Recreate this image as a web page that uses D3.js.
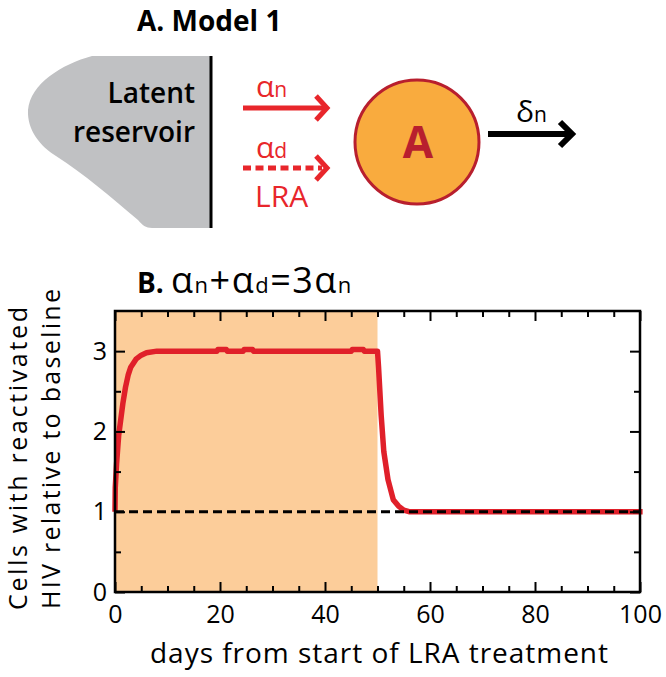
<!DOCTYPE html>
<html>
<head>
<meta charset="utf-8">
<script src="https://cdn.jsdelivr.net/npm/d3@7"></script>
<style>
  html, body { margin: 0; padding: 0; background: #fff; }
  svg { display: block; }
  text { font-family: "Open Sans", "DejaVu Sans", sans-serif; }
</style>
</head>
<body>
<svg id="chart" width="666" height="677"></svg>
<script>
// ---- Data ----
const days = [0, 0.05, 0.3, 0.7, 1, 1.5, 2, 2.5, 3, 4, 5, 6, 8, 12, 19.4, 19.6, 21.2, 21.4, 24.4, 24.6, 26.2, 26.4, 40, 45, 45.2, 47.3, 47.5, 50, 50.2, 50.7, 51.2, 52, 53, 54, 55, 56, 58, 70, 85, 100.5];
const relCells = [1, 1.3, 1.6, 1.95, 2.1, 2.35, 2.55, 2.7, 2.8, 2.9, 2.95, 2.98, 3.0, 3.0, 3.0, 3.02, 3.02, 3.0, 3.0, 3.02, 3.02, 3.0, 3.0, 3.0, 3.02, 3.02, 3.0, 3.0, 2.8, 2.2, 1.75, 1.4, 1.15, 1.07, 1.02, 1.0, 1.0, 1.0, 1.0, 1.0];
const baseline = 1;
const lraStart = 0, lraEnd = 50;
const xMajorTicks = [0, 20, 40, 60, 80, 100];
const yMajorTicks = [0, 1, 2, 3];
const xDomain = [0, 100];
const yDomain = [0, 3.5];

const svg = d3.select("#chart");

// ---- Panel A: model diagram ----
const A = svg.append("g");
A.append("text").attr("x", 137).attr("y", 31).attr("font-size", 28).attr("font-weight", 700)
  .text("A. Model 1");

A.append("path")
  .attr("d", "M211,56 L92,56 C62,64 30,84 28,110 C27,130 40,146 56,156 C84,174 112,198 138,220 C142,225 146,228 152,228 L211,228 Z")
  .attr("fill", "#c0c1c3");
A.append("line").attr("x1", 211).attr("x2", 211).attr("y1", 56).attr("y2", 228)
  .attr("stroke", "#000").attr("stroke-width", 3);
A.append("text").attr("x", 195).attr("y", 103).attr("text-anchor", "end")
  .attr("font-size", 28).attr("font-weight", 600).text("Latent");
A.append("text").attr("x", 195).attr("y", 142).attr("text-anchor", "end")
  .attr("font-size", 28).attr("font-weight", 600).text("reservoir");

const red = "#e8262b";
// solid arrow alpha_n
A.append("line").attr("x1", 243).attr("x2", 324).attr("y1", 108).attr("y2", 108)
  .attr("stroke", red).attr("stroke-width", 5);
A.append("path").attr("d", "M316,96 L327,108 L316,120").attr("fill", "none")
  .attr("stroke", red).attr("stroke-width", 5);
const an = A.append("text").attr("x", 256).attr("y", 97).attr("fill", red).attr("font-size", 30);
an.append("tspan").text("α");
an.append("tspan").attr("font-size", 21).text("n");
// dashed arrow alpha_d
A.append("line").attr("x1", 243).attr("x2", 322).attr("y1", 168).attr("y2", 168)
  .attr("stroke", red).attr("stroke-width", 5).attr("stroke-dasharray", "8,4.5");
A.append("path").attr("d", "M316,156 L327,168 L316,180").attr("fill", "none")
  .attr("stroke", red).attr("stroke-width", 5);
const ad = A.append("text").attr("x", 256).attr("y", 158).attr("fill", red).attr("font-size", 30);
ad.append("tspan").text("α");
ad.append("tspan").attr("font-size", 21).text("d");
A.append("text").attr("x", 255).attr("y", 207).attr("fill", red).attr("font-size", 30).text("LRA");

// compartment A
A.append("circle").attr("cx", 417).attr("cy", 142).attr("r", 62)
  .attr("fill", "#f9ab3e").attr("stroke", "#b81f2e").attr("stroke-width", 3);
A.append("text").attr("x", 418).attr("y", 158).attr("text-anchor", "middle")
  .attr("font-size", 44).attr("font-weight", 700).attr("fill", "#b81f2e").text("A");

// death arrow delta_n
A.append("line").attr("x1", 488).attr("x2", 570).attr("y1", 134).attr("y2", 134)
  .attr("stroke", "#000").attr("stroke-width", 6);
A.append("path").attr("d", "M560,122 L572,134 L560,146").attr("fill", "none")
  .attr("stroke", "#000").attr("stroke-width", 6);
const dn = A.append("text").attr("x", 516).attr("y", 122).attr("fill", "#000").attr("font-size", 30);
dn.append("tspan").text("δ");
dn.append("tspan").attr("font-size", 21).text("n");

// ---- Panel B: chart ----
const pLeft = 115, pRight = 640, pTop = 311, pBottom = 592;
const x = d3.scaleLinear().domain(xDomain).range([pLeft, pRight]);
const y = d3.scaleLinear().domain(yDomain).range([pBottom, pTop]);

const title = svg.append("text").attr("x", 137).attr("y", 293).attr("font-size", 36);
title.append("tspan").attr("font-weight", 700).attr("font-size", 28).text("B. ");
title.append("tspan").attr("letter-spacing", 1.5).text("α");
title.append("tspan").attr("font-size", 22).attr("letter-spacing", 1.5).text("n");
title.append("tspan").attr("letter-spacing", 1.5).text("+α");
title.append("tspan").attr("font-size", 22).attr("letter-spacing", 1.5).text("d");
title.append("tspan").attr("letter-spacing", 1.5).text("=3α");
title.append("tspan").attr("font-size", 22).text("n");

// LRA treatment shading
svg.append("rect")
  .attr("x", x(lraStart)).attr("y", pTop)
  .attr("width", x(lraEnd) - x(lraStart)).attr("height", pBottom - pTop)
  .attr("fill", "#fccd9a");

// curve
const pts = days.map((d, i) => [d, relCells[i]]);
svg.append("path").datum(pts)
  .attr("d", d3.line().x(d => x(d[0])).y(d => y(d[1])))
  .attr("fill", "none").attr("stroke", "#e0202a").attr("stroke-width", 5.5)
  .attr("stroke-linejoin", "round");

// baseline dashed
svg.append("line")
  .attr("x1", x(xDomain[0])).attr("x2", x(xDomain[1]))
  .attr("y1", y(baseline)).attr("y2", y(baseline))
  .attr("stroke", "#000").attr("stroke-width", 3).attr("stroke-dasharray", "9,5");

// axes
const xMinor = d3.range(0, 101, 5).filter(v => v % 20 !== 0);
const yMinor = [0.5, 1.5, 2.5];

function styleAxis(g) {
  g.select(".domain").remove();
  g.selectAll(".tick line").attr("stroke", "#000").attr("stroke-width", 2);
  g.selectAll("text").attr("font-size", 25).attr("fill", "#000")
    .attr("font-family", "'Open Sans', sans-serif");
}

svg.append("g").attr("transform", `translate(0,${pBottom})`)
  .call(d3.axisBottom(x).tickValues(xMajorTicks).tickSizeInner(-10).tickSizeOuter(0).tickPadding(13).tickFormat(d3.format("d")))
  .call(styleAxis);
svg.append("g").attr("transform", `translate(0,${pBottom})`)
  .call(d3.axisBottom(x).tickValues(xMinor).tickSizeInner(-6).tickSizeOuter(0).tickFormat(""))
  .call(styleAxis);
svg.append("g").attr("transform", `translate(0,${pTop})`)
  .call(d3.axisTop(x).tickValues(xMajorTicks).tickSizeInner(-10).tickSizeOuter(0).tickFormat(""))
  .call(styleAxis);
svg.append("g").attr("transform", `translate(0,${pTop})`)
  .call(d3.axisTop(x).tickValues(xMinor).tickSizeInner(-6).tickSizeOuter(0).tickFormat(""))
  .call(styleAxis);

svg.append("g").attr("transform", `translate(${pLeft},0)`)
  .call(d3.axisLeft(y).tickValues(yMajorTicks).tickSizeInner(-10).tickSizeOuter(0).tickPadding(8).tickFormat(d3.format("d")))
  .call(styleAxis);
svg.append("g").attr("transform", `translate(${pLeft},0)`)
  .call(d3.axisLeft(y).tickValues(yMinor).tickSizeInner(-6).tickSizeOuter(0).tickFormat(""))
  .call(styleAxis);
svg.append("g").attr("transform", `translate(${pRight},0)`)
  .call(d3.axisRight(y).tickValues(yMajorTicks).tickSizeInner(-10).tickSizeOuter(0).tickFormat(""))
  .call(styleAxis);
svg.append("g").attr("transform", `translate(${pRight},0)`)
  .call(d3.axisRight(y).tickValues(yMinor).tickSizeInner(-6).tickSizeOuter(0).tickFormat(""))
  .call(styleAxis);

// frame
svg.append("rect").attr("x", pLeft).attr("y", pTop)
  .attr("width", pRight - pLeft).attr("height", pBottom - pTop)
  .attr("fill", "none").attr("stroke", "#000").attr("stroke-width", 2.5);

// axis titles
svg.append("text").attr("x", 150).attr("y", 663)
  .attr("font-size", 28).attr("textLength", 458).attr("lengthAdjust", "spacing")
  .text("days from start of LRA treatment");
svg.append("text").attr("transform", "translate(27,610) rotate(-90)")
  .attr("font-size", 25).attr("textLength", 303).attr("lengthAdjust", "spacing")
  .text("Cells with reactivated");
svg.append("text").attr("transform", "translate(60,609) rotate(-90)")
  .attr("font-size", 25).attr("textLength", 320).attr("lengthAdjust", "spacing")
  .text("HIV relative to baseline");
</script>
</body>
</html>
